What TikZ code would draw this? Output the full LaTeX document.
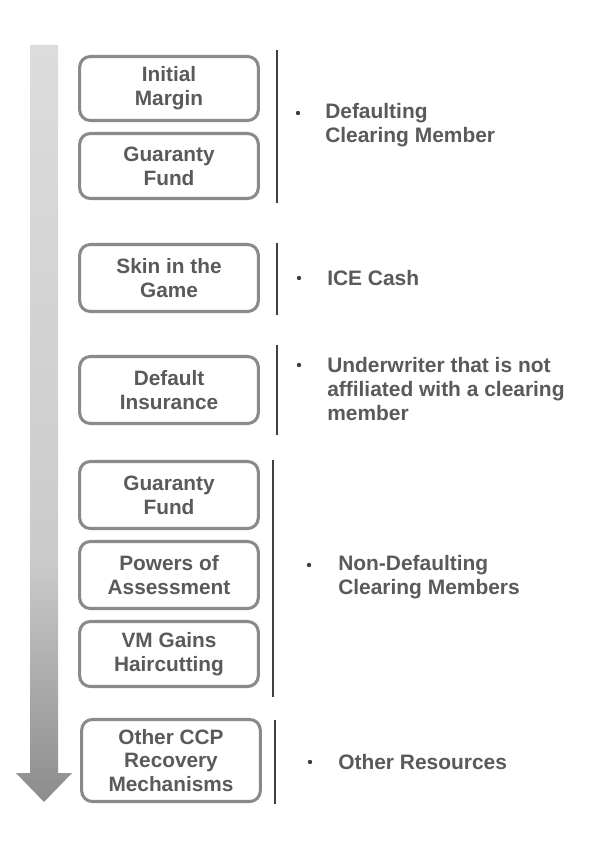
\documentclass[tikz,border=0pt]{standalone}
\usepackage{fontspec}
\setmainfont{Liberation Sans}
\definecolor{txt}{HTML}{5A5A5A}
\definecolor{boxc}{HTML}{8A8A8A}
\definecolor{sepc}{HTML}{3F3F3F}
\definecolor{arrdark}{HTML}{8C8C8C}
\definecolor{arrmid}{HTML}{CBCBCB}
\definecolor{arrlight}{HTML}{DCDCDC}
\pgfdeclareverticalshading{arrowshade}{100bp}{color(0bp)=(arrdark); color(25bp)=(arrdark); color(41bp)=(arrmid); color(75bp)=(arrlight); color(100bp)=(arrlight)}
\begin{document}
\begin{tikzpicture}[x=0.75pt,y=-0.75pt,
  boxnode/.style={draw=boxc, line width=2.3pt, rounded corners=8pt, fill=white,
    minimum width=134pt, align=center, text=txt, inner sep=0pt,
    font=\fontsize{15.6}{17.8}\selectfont\bfseries},
  lab/.style={anchor=west, align=left, text=txt, inner sep=0pt,
    font=\fontsize{15.7}{17.9}\selectfont\bfseries},
  dotnode/.style={circle, fill=sepc, inner sep=0pt, minimum size=3.3pt},
  sepline/.style={draw=sepc, line width=1.1pt}
]
\useasboundingbox[fill=white] (0,0) rectangle (590,852);

% big arrow
\shade[shading=arrowshade] (30,45) -- (58,45) -- (58,773) -- (72,773) -- (44,802) -- (16,773) -- (30,773) -- cycle;

% boxes
\node[boxnode, minimum height=48pt] (im) at (169,88.5) {Initial\\Margin};
\node[boxnode, minimum height=48.75pt] (gf1) at (169,166) {Guaranty\\Fund};
\node[boxnode, minimum height=50.25pt] (sg) at (169,278) {Skin in the\\Game};
\node[boxnode, minimum height=50.25pt] (di) at (169,390) {Default\\Insurance};
\node[boxnode, minimum height=50.25pt] (gf2) at (169,495) {Guaranty\\Fund};
\node[boxnode, minimum height=50.25pt] (pa) at (169,575) {Powers of\\Assessment};
\node[boxnode, minimum height=48.75pt] (vm) at (169,654) {VM Gains\\Haircutting};
\node[boxnode, minimum height=61.5pt] (oc) at (171,760.5) {Other CCP\\Recovery\\Mechanisms};

% separators
\coordinate (s1a) at (277,50);  \coordinate (s1b) at (277,203);
\coordinate (s2a) at (277,243); \coordinate (s2b) at (277,315);
\coordinate (s3a) at (277,345); \coordinate (s3b) at (277,435);
\coordinate (s4a) at (273,460); \coordinate (s4b) at (273,697);
\coordinate (s5a) at (275,720); \coordinate (s5b) at (275,804);
\draw[sepline] (s1a) -- (s1b);
\draw[sepline] (s2a) -- (s2b);
\draw[sepline] (s3a) -- (s3b);
\draw[sepline] (s4a) -- (s4b);
\draw[sepline] (s5a) -- (s5b);

% labels
\node[dotnode] (d1) at (298,113) {};
\node[lab] (l1) at (325,125) {Defaulting\\Clearing Member};
\node[dotnode] (d2) at (299,278) {};
\node[lab] (l2) at (327,278) {ICE Cash};
\node[dotnode] (d3) at (299,365) {};
\node[lab] (l3) at (327,389) {Underwriter that is not\\affiliated with a clearing\\member};
\node[dotnode] (d4) at (309,565) {};
\node[lab] (l4) at (338,577) {Non-Defaulting\\Clearing Members};
\node[dotnode] (d5) at (310,762) {};
\node[lab] (l5) at (338,762) {Other Resources};
\end{tikzpicture}
\end{document}
